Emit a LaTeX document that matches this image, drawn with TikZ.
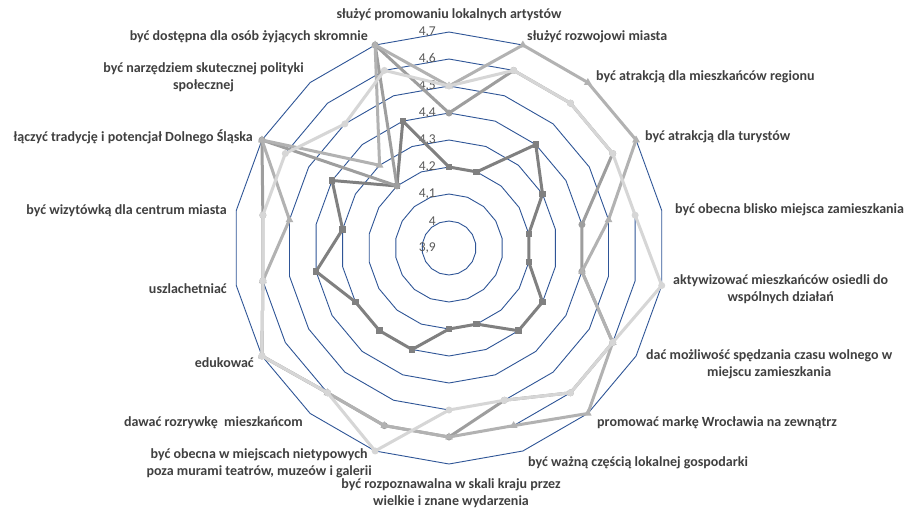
\documentclass[tikz,border=0pt]{standalone}
\usepackage{fontspec}
\setmainfont{Carlito}
\usetikzlibrary{shapes.geometric}
\definecolor{ringblue}{RGB}{47,85,151}
\definecolor{sA}{RGB}{128,128,128}
\definecolor{sC}{RGB}{158,158,158}
\definecolor{sB}{RGB}{178,178,178}
\definecolor{sD}{RGB}{214,214,214}
\definecolor{lbl}{RGB}{64,64,64}
\definecolor{vlbl}{RGB}{89,89,89}
\newcommand\defseries[2]{%
  \foreach \v [count=\i from 0] in {#2} {%
    \pgfmathsetmacro\rr{(\v-3.9)*270}%
    \coordinate (#1\i) at ({449+\rr*cos(90-20*\i)},{248-\rr*sin(90-20*\i)});
  }}
\tikzset{
  ring/.style={draw=ringblue, line width=0.9pt},
  serline/.style={line width=3pt, line join=round},
  mkA/.style={rectangle, fill=sA, minimum size=6.5pt, inner sep=0pt},
  mkB/.style={regular polygon, regular polygon sides=3, fill=sB, minimum size=9pt, inner sep=0pt},
  mkC/.style={circle, fill=sC, minimum size=7pt, inner sep=0pt},
  mkD/.style={circle, fill=sD, minimum size=7pt, inner sep=0pt},
  lab/.style={font=\bfseries\fontsize{14}{17}\selectfont, text=lbl, inner sep=0pt},
  vl/.style={font=\fontsize{13.5}{15}\selectfont, text=vlbl, inner sep=0pt, anchor=east}
}
\begin{document}
\begin{tikzpicture}[x=1pt,y=-1pt]
\useasboundingbox (0,0) rectangle (913,512);
\fill[white] (0,0) rectangle (913,512);
% rings
\foreach \n in {1,...,8} {
  \pgfmathsetmacro\r{27*\n}
  \draw[ring] (449,{248-\r}) \foreach \k in {1,...,17}{ -- ({449+\r*cos(90-20*\k)},{248-\r*sin(90-20*\k)}) } -- cycle;
}
% value labels
\foreach \t [count=\n from 0] in {3{,}9,4,4{,}1,4{,}2,4{,}3,4{,}4,4{,}5,4{,}6,4{,}7} {
  \node[vl] (v\n) at (436,{248-27*\n}) {\t};
}
% series data
\defseries{A}{4.2,4.2,4.4,4.3,4.2,4.2,4.3,4.3,4.2,4.2,4.3,4.3,4.3,4.4,4.3,4.4,4.2,4.4}
\defseries{B}{4.5,4.7,4.7,4.7,4.5,4.4,4.6,4.7,4.6,4.6,4.6,4.6,4.7,4.6,4.5,4.7,4.3,4.7}
\defseries{C}{4.4,4.6,4.6,4.6,4.4,4.4,4.6,4.6,4.5,4.6,4.6,4.6,4.7,4.6,4.6,4.7,4.2,4.7}
\defseries{D}{4.5,4.6,4.6,4.6,4.6,4.7,4.6,4.6,4.5,4.5,4.7,4.6,4.7,4.6,4.6,4.6,4.5,4.6}
% series A
\draw[serline, sA] (A0) \foreach \i in {1,...,17}{ -- (A\i) } -- cycle;
\foreach \i in {0,...,17} \node[mkA] (mA\i) at (A\i) {};
% series C
\draw[serline, sC] (C0) \foreach \i in {1,...,17}{ -- (C\i) } -- cycle;
\foreach \i in {0,...,17} \node[mkC] (mC\i) at (C\i) {};
% series B
\draw[serline, sB] (B0) \foreach \i in {1,...,17}{ -- (B\i) } -- cycle;
\foreach \i in {0,...,17} \node[mkB] (mB\i) at (B\i) {};
% series D
\draw[serline, sD] (D0) \foreach \i in {1,...,17}{ -- (D\i) } -- cycle;
\foreach \i in {0,...,17} \node[mkD] (mD\i) at (D\i) {};
% category labels
\node[lab] (l0) at (449,15) {służyć promowaniu lokalnych artystów};
\node[lab, anchor=west] (l1) at (527,37) {służyć rozwojowi miasta};
\node[lab, anchor=west] (l2) at (596,77) {być atrakcją dla mieszkańców regionu};
\node[lab, anchor=west] (l3) at (645,137) {być atrakcją dla turystów};
\node[lab, anchor=west] (l4) at (675,210) {być obecna blisko miejsca zamieszkania};
\node[lab, anchor=west, align=center] (l5) at (673,289) {aktywizować mieszkańców osiedli do\\wspólnych działań};
\node[lab, anchor=west, align=center] (l6) at (646,364) {dać możliwość spędzania czasu wolnego w\\miejscu zamieszkania};
\node[lab, anchor=west] (l7) at (597,423) {promować markę Wrocławia na zewnątrz};
\node[lab, anchor=west] (l8) at (528,463) {być ważną częścią lokalnej gospodarki};
\node[lab, align=center] (l9) at (451,493) {być rozpoznawalna w skali kraju przez\\wielkie i znane wydarzenia};
\node[lab, anchor=east, align=center] (l10) at (372,463) {być obecna w miejscach nietypowych\\poza murami teatrów, muzeów i galerii};
\node[lab, anchor=east] (l11) at (303,423) {dawać rozrywkę\ \ mieszkańcom};
\node[lab, anchor=east] (l12) at (254,363) {edukować};
\node[lab, anchor=east] (l13) at (227,289) {uszlachetniać};
\node[lab, anchor=east] (l14) at (227,211) {być wizytówką dla centrum miasta};
\node[lab, anchor=east] (l15) at (253,137) {łączyć tradycję i potencjał Dolnego Śląska};
\node[lab, anchor=east, align=center] (l16) at (304,77.5) {być narzędziem skutecznej polityki\\społecznej};
\node[lab, anchor=east] (l17) at (368,37) {być dostępna dla osób żyjących skromnie};
\end{tikzpicture}
\end{document}
